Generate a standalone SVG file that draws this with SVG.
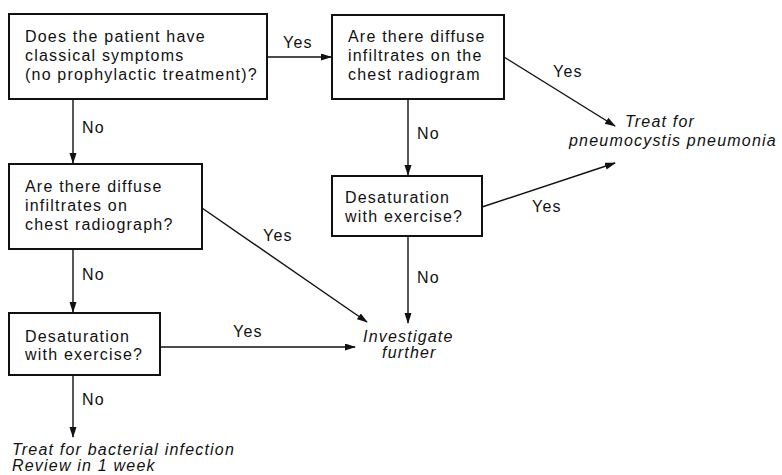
<svg xmlns="http://www.w3.org/2000/svg" width="782" height="475" viewBox="0 0 782 475">
<style>
text{font-family:"Liberation Sans",Arial,sans-serif;font-size:16px;fill:#111;letter-spacing:1.2px}
.it{font-style:italic}
.box{fill:#fff;stroke:#111;stroke-width:2}
.con line{stroke:#111;stroke-width:1.4;marker-end:url(#ah)}
</style>
<defs>
<marker id="ah" markerUnits="userSpaceOnUse" markerWidth="11" markerHeight="8" refX="10" refY="3.5" orient="auto">
<path d="M0,0 L11,3.5 L0,7 z" fill="#111"/>
</marker>
</defs>
<rect width="782" height="475" fill="#fff"/>
<g id="q1"><rect class="box" x="9" y="14" width="258" height="85"/>
<text x="25" y="42">Does the patient have</text><text x="25" y="61">classical symptoms</text><text x="25" y="80">(no prophylactic treatment)?</text></g>
<g id="q2"><rect class="box" x="332" y="15" width="172" height="84"/>
<text x="348" y="42">Are there diffuse</text><text x="348" y="61">infiltrates on the</text><text x="348" y="80">chest radiogram</text></g>
<g id="q3"><rect class="box" x="332" y="176" width="150" height="60"/>
<text x="345" y="203">Desaturation</text><text x="345" y="222">with exercise?</text></g>
<g id="q4"><rect class="box" x="9" y="164" width="193" height="85"/>
<text x="25" y="192">Are there diffuse</text><text x="25" y="211">infiltrates on</text><text x="25" y="230">chest radiograph?</text></g>
<g id="q5"><rect class="box" x="9" y="313" width="151" height="62"/>
<text x="25" y="342">Desaturation</text><text x="25" y="360">with exercise?</text></g>
<g id="pcp"><text class="it" x="625" y="127">Treat for</text><text class="it" x="569" y="146">pneumocystis pneumonia</text></g>
<g id="inv"><text class="it" x="363" y="342">Investigate</text><text class="it" x="382" y="358">further</text></g>
<g id="bact"><text class="it" x="12" y="455">Treat for bacterial infection</text><text class="it" x="12" y="471">Review in 1 week</text></g>
<g id="connectors" class="con">
<line x1="267" y1="57" x2="331" y2="57"/>
<line x1="504" y1="57" x2="615" y2="126"/>
<line x1="408" y1="99" x2="408" y2="175"/>
<line x1="482" y1="207" x2="615" y2="163"/>
<line x1="408" y1="236" x2="408" y2="323"/>
<line x1="73" y1="99" x2="73" y2="163"/>
<line x1="202" y1="208" x2="367" y2="322"/>
<line x1="73" y1="249" x2="73" y2="312"/>
<line x1="160" y1="347" x2="355" y2="347"/>
<line x1="73" y1="375" x2="73" y2="437"/>
</g>
<g id="labels">
<text x="283" y="48">Yes</text>
<text x="553" y="77">Yes</text>
<text x="417" y="139">No</text>
<text x="532" y="212">Yes</text>
<text x="417" y="283">No</text>
<text x="82" y="133">No</text>
<text x="263" y="241">Yes</text>
<text x="82" y="280">No</text>
<text x="233" y="337">Yes</text>
<text x="82" y="405">No</text>
</g>
</svg>
